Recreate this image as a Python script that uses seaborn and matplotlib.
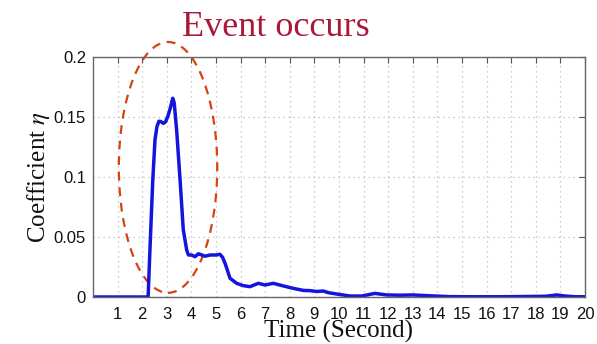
import numpy as np
import pandas as pd
import seaborn as sns
import matplotlib
matplotlib.use("Agg")
import matplotlib.pyplot as plt
from matplotlib.patches import Ellipse

# Data
time_s = [0.0, 1.0, 2.0, 2.24, 2.32, 2.43, 2.52, 2.60, 2.68, 2.76, 2.86, 2.95, 3.05, 3.15, 3.24,
          3.30, 3.40, 3.54, 3.67, 3.81, 3.88, 4.01, 4.15, 4.28, 4.35, 4.55, 4.76,
          5.0, 5.16, 5.27, 5.37, 5.57, 5.84, 6.1, 6.38, 6.72, 6.99, 7.33, 7.74, 8.14,
          8.55, 8.82, 9.09, 9.36, 9.57, 9.9, 10.45, 10.92, 11.46, 11.94, 12.5,
          13.0, 13.7, 14.5, 15.5, 16.5, 17.5, 18.4, 18.85, 19.2, 19.6, 20.0]
coef = [0.0, 0.0, 0.0, 0.0, 0.042, 0.0975, 0.131, 0.142, 0.1465, 0.1462, 0.1447, 0.146, 0.151, 0.158, 0.1656,
        0.162, 0.139, 0.0975, 0.056, 0.039, 0.035, 0.035, 0.0336, 0.036, 0.0356, 0.034, 0.035,
        0.035, 0.0356, 0.033, 0.028, 0.0156, 0.0114, 0.0095, 0.0086, 0.0114, 0.010, 0.0114, 0.0092, 0.0072,
        0.0055, 0.0053, 0.0046, 0.0050, 0.0036, 0.0025, 0.0008, 0.0008, 0.003, 0.0017, 0.0015,
        0.0017, 0.001, 0.0003, 0.0002, 0.0002, 0.0004, 0.0006, 0.0017, 0.0008, 0.0002, 0.0002]
x_ticks = list(range(1, 21))
y_ticks = [0, 0.05, 0.1, 0.15, 0.2]
y_tick_labels = ["0", "0.05", "0.1", "0.15", "0.2"]

df = pd.DataFrame({"time": time_s, "coef": coef})

sns.set_style("white")
plt.rcParams["font.family"] = ["Liberation Sans", "DejaVu Sans"]
plt.rcParams["mathtext.fontset"] = "stix"

fig = plt.figure(figsize=(5.97, 3.44), dpi=100)
ax = fig.add_axes([93 / 597, 1 - 297 / 344, (585 - 93) / 597, (297 - 57) / 344])

sns.lineplot(data=df, x="time", y="coef", ax=ax, color="#1414dc", linewidth=2.5)

ax.set_xlim(0, 20)
ax.set_ylim(0, 0.2)
ax.set_xticks(x_ticks)
ax.set_xticklabels([str(t) for t in x_ticks])
ax.set_yticks(y_ticks)
ax.set_yticklabels(y_tick_labels)
ax.tick_params(direction="in", length=4, width=0.8, color="#555555",
               top=True, right=True, labelsize=12, labelcolor="#111111", pad=5)
ax.tick_params(axis="x", pad=7)
ax.grid(True, linestyle=(0, (1, 3)), color="#bbbbbb", linewidth=0.9)
for sp in ax.spines.values():
    sp.set_color("#666666")
    sp.set_linewidth(1.0)

ax.set_xlabel("Time (Second)", family="Liberation Serif", fontsize=18, labelpad=-1, color="#111111")
ax.set_ylabel(r"Coefficient $\eta$", family="Liberation Serif", fontsize=18, labelpad=1, color="#111111")

ell = Ellipse((3.05, 0.108), width=4.0, height=0.209, fill=False,
              edgecolor="#d5440f", linestyle=(0, (4, 3)), linewidth=1.6, clip_on=False)
ax.add_patch(ell)

fig.text(276 / 597, 1 - 36 / 344, "Event occurs", family="Liberation Serif",
         fontsize=26, color="#aa1838", ha="center", va="baseline")

fig.savefig("out.png", dpi=100)
